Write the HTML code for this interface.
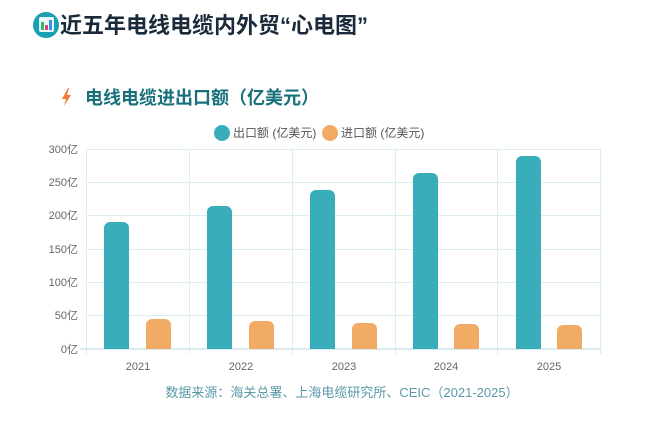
<!DOCTYPE html>
<html><head><meta charset="utf-8"><style>
body{margin:0;width:651px;height:443px;background:#fff;font-family:"Liberation Sans","Noto Sans CJK SC",sans-serif;overflow:hidden}
</style></head><body>
<svg width="651" height="443" xmlns="http://www.w3.org/2000/svg" style="position:absolute;left:0;top:0">
<circle cx="46" cy="25" r="13" fill="#1aa0b0"/>
<rect x="39" y="17" width="15" height="15" rx="2" fill="#eef6fa"/>
<rect x="41" y="22" width="3" height="8" fill="#2bbf6a"/>
<rect x="45" y="25" width="3" height="5" fill="#e0407a"/>
<rect x="49" y="20" width="3" height="10" fill="#3a8ee6"/>
<text x="60" y="33" font-size="22" font-weight="bold" fill="#1a2a3a" font-family="Liberation Sans,Noto Sans CJK SC,sans-serif">近五年电线电缆内外贸“心电图”</text>
<path d="M68 88 L62 99 L66 99 L64 106 L71 95 L67 95 L69 88 Z" fill="#f07838"/>
<text x="85" y="104" font-size="18" font-weight="bold" fill="#17707a" font-family="Liberation Sans,Noto Sans CJK SC,sans-serif">电线电缆进出口额（亿美元）</text>
<circle cx="222" cy="133" r="8" fill="#3aadba"/>
<text x="233" y="137" font-size="12" fill="#555" font-family="Liberation Sans,Noto Sans CJK SC,sans-serif">出口额 (亿美元)</text>
<circle cx="330" cy="133" r="8" fill="#f2ab65"/>
<text x="341" y="137" font-size="12" fill="#555" font-family="Liberation Sans,Noto Sans CJK SC,sans-serif">进口额 (亿美元)</text>
<g stroke="#dceef2" stroke-width="1">
<line x1="86" y1="149.5" x2="600" y2="149.5"/><line x1="86" y1="182.5" x2="600" y2="182.5"/>
<line x1="86" y1="215.5" x2="600" y2="215.5"/><line x1="86" y1="249.5" x2="600" y2="249.5"/>
<line x1="86" y1="282.5" x2="600" y2="282.5"/><line x1="86" y1="315.5" x2="600" y2="315.5"/>
<line x1="86.5" y1="149" x2="86.5" y2="354"/><line x1="189.5" y1="149" x2="189.5" y2="354"/>
<line x1="292.5" y1="149" x2="292.5" y2="354"/><line x1="395.5" y1="149" x2="395.5" y2="354"/>
<line x1="497.5" y1="149" x2="497.5" y2="354"/><line x1="600.5" y1="149" x2="600.5" y2="354"/>
</g>
<line x1="80" y1="349" x2="600" y2="349" stroke="#cfe3e8" stroke-width="1.5"/>
<g font-size="11" fill="#666" text-anchor="end" font-family="Liberation Sans,Noto Sans CJK SC,sans-serif">
<text x="78" y="153">300亿</text><text x="78" y="186">250亿</text><text x="78" y="219">200亿</text>
<text x="78" y="253">150亿</text><text x="78" y="286">100亿</text><text x="78" y="319">50亿</text><text x="78" y="353">0亿</text>
</g>
<g font-size="11" fill="#666" text-anchor="middle">
<text x="138" y="370">2021</text><text x="241" y="370">2022</text><text x="344" y="370">2023</text><text x="446" y="370">2024</text><text x="549" y="370">2025</text>
</g>
<g fill="#3aadba">
<path d="M104 349V228a6 6 0 0 1 6-6h13a6 6 0 0 1 6 6V349Z"/>
<path d="M207 349V212a6 6 0 0 1 6-6h13a6 6 0 0 1 6 6V349Z"/>
<path d="M310 349V196a6 6 0 0 1 6-6h13a6 6 0 0 1 6 6V349Z"/>
<path d="M413 349V179a6 6 0 0 1 6-6h13a6 6 0 0 1 6 6V349Z"/>
<path d="M516 349V162a6 6 0 0 1 6-6h13a6 6 0 0 1 6 6V349Z"/>
</g>
<g fill="#f2ab65">
<path d="M146 349V325a6 6 0 0 1 6-6h13a6 6 0 0 1 6 6V349Z"/>
<path d="M249 349V327a6 6 0 0 1 6-6h13a6 6 0 0 1 6 6V349Z"/>
<path d="M352 349V329a6 6 0 0 1 6-6h13a6 6 0 0 1 6 6V349Z"/>
<path d="M454 349V330a6 6 0 0 1 6-6h13a6 6 0 0 1 6 6V349Z"/>
<path d="M557 349V331a6 6 0 0 1 6-6h13a6 6 0 0 1 6 6V349Z"/>
</g>
<text x="342" y="397" font-size="13" fill="#5a9aa8" text-anchor="middle" font-family="Liberation Sans,Noto Sans CJK SC,sans-serif">数据来源：海关总署、上海电缆研究所、CEIC（2021-2025）</text>
</svg>
</body></html>
